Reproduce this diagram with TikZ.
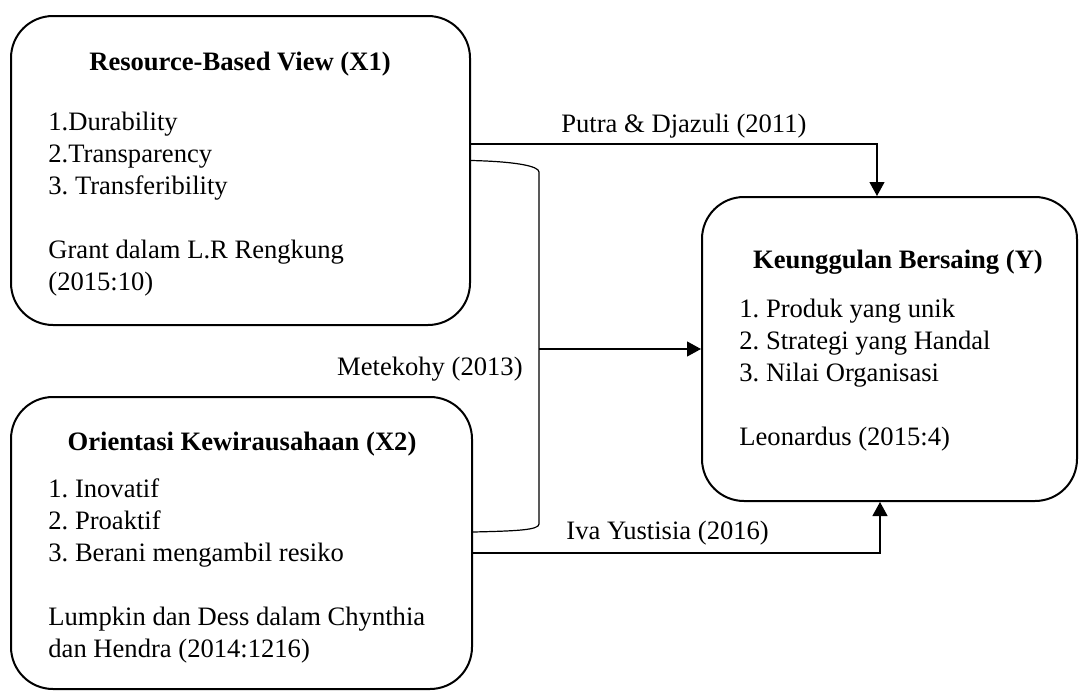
\documentclass[tikz,border=0pt]{standalone}
\usepackage{fontspec}
\setmainfont{Liberation Serif}
\frenchspacing
\usetikzlibrary{arrows.meta,positioning,calc}
\tikzset{
  varblock/.style={draw, line width=1pt, rounded corners=21pt, inner sep=0pt},
  headtext/.style={font=\fontsize{13.3}{16}\selectfont\bfseries, inner sep=0pt, anchor=base},
  itemtext/.style={font=\fontsize{13.3}{16}\selectfont, align=left, inner sep=0pt, anchor=base west},
  cite/.style={font=\fontsize{13.3}{16}\selectfont, inner sep=0pt},
  flow/.style={-{Triangle[length=7pt,width=7.5pt]}, line width=0.6pt},
  brace/.style={line width=0.6pt}
}

\begin{document}
\begin{tikzpicture}[x=0.5pt,y=-0.5pt]
      \useasboundingbox (0,0) rectangle (1089,691);
      % variables
      \node[varblock, minimum width=229.5pt, minimum height=154.5pt] (rbv) at (240.5,170.5) {};
      \node[varblock, minimum width=230.5pt, minimum height=146pt] (ok) at (241.5,543) {};
      \node[varblock, minimum width=187.5pt, minimum height=152pt] (kb) at (889.5,349) {};
      \node[headtext] (rbvhead) at (240,70) {Resource-Based View (X1)};
      \node[itemtext] (rbvitems) at (48,290) {1.Durability\\2.Transparency\\3. Transferibility\\[16pt]Grant dalam L.R Rengkung\\(2015:10)};
      \node[headtext] (okhead) at (242,450) {Orientasi Kewirausahaan (X2)};
      \node[itemtext] (okitems) at (48,657) {1. Inovatif\\2. Proaktif\\3. Berani mengambil resiko\\[16pt]Lumpkin dan Dess dalam Chynthia\\dan Hendra (2014:1216)};
      \node[headtext] (kbhead) at (898,268) {Keunggulan Bersaing (Y)};
      \node[itemtext] (kbitems) at (739,445) {1. Produk yang unik\\2. Strategi yang Handal\\3. Nilai Organisasi\\[16pt]Leonardus (2015:4)};
      % links
      \coordinate (bracetop) at (539,172);
      \coordinate (bracebot) at (539,524);
      \coordinate (join) at (539,349);
      \draw[flow] ([yshift=13.25pt]rbv.east) -| ([xshift=-6.25pt]kb.north);
      \draw[flow] ([yshift=-5pt]ok.east) -| ([xshift=-4.75pt]kb.south);
      \draw[brace] ([yshift=5pt]rbv.east) .. controls +(22pt,-0.5pt) and +(0,3pt) .. (bracetop)
        -- (bracebot) .. controls +(0,-3pt) and +(22pt,0.5pt) .. ([yshift=5.5pt]ok.east);
      \draw[flow] (join) -- (join -| kb.west);
      \node[cite, anchor=base west] (putra) at (561,132) {Putra \& Djazuli (2011)};
      \node[cite, anchor=base east] (mete) at (523,375) {Metekohy (2013)};
      \node[cite, anchor=base west] (iva) at (566,539) {Iva Yustisia (2016)};
    \end{tikzpicture}
\end{document}
